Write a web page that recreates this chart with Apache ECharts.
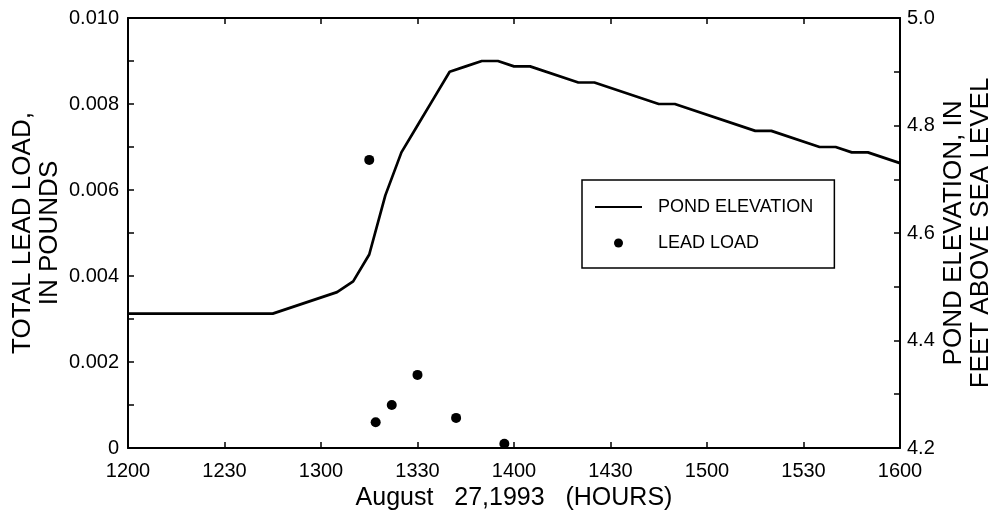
<!DOCTYPE html>
<html>
<head>
<meta charset="utf-8">
<title>Pond elevation and lead load, August 27, 1993</title>
<script src="https://cdn.jsdelivr.net/npm/echarts@6/dist/echarts.min.js"></script>
<style>
  html, body { margin: 0; padding: 0; background: #fff; }
  #chart { width: 1007px; height: 523px; }
</style>
</head>
<body>
<div id="chart"></div>
<script>
// Pond elevation, feet above sea level (clock time as HHMM)
const elevTimes = [1200, 1245, 1305, 1310, 1315, 1320, 1325, 1330, 1335, 1340, 1345, 1350, 1355,
                   1400, 1405, 1420, 1425, 1445, 1450, 1515, 1520, 1535, 1540, 1545, 1550, 1600];
const elevValues = [4.45, 4.45, 4.49, 4.51, 4.56, 4.67, 4.75, 4.80, 4.85, 4.90, 4.91, 4.92, 4.92,
                    4.91, 4.91, 4.88, 4.88, 4.84, 4.84, 4.79, 4.79, 4.76, 4.76, 4.75, 4.75, 4.73];

// Total lead load, pounds, per sample
const leadTimes = [1315, 1317, 1322, 1330, 1342, 1357];
const leadValues = [0.0067, 0.0006, 0.001, 0.0017, 0.0007, 0.0001];

// Axis tick labels
const hourTicks = ['1200', '1230', '1300', '1330', '1400', '1430', '1500', '1530', '1600'];

const FONT = '"Liberation Sans", Arial, Helvetica, sans-serif';
const BLACK = '#000';

// HHMM clock time -> minutes since midnight
const toMinutes = t => Math.floor(t / 100) * 60 + (t % 100);
const startMin = toMinutes(Number(hourTicks[0]));
const endMin = toMinutes(Number(hourTicks[hourTicks.length - 1]));

const elevData = elevTimes.map((t, i) => [toMinutes(t), elevValues[i]]);
const leadData = leadTimes.map((t, i) => [toMinutes(t), leadValues[i]]);

const axisLine = { show: true, onZero: false, lineStyle: { color: BLACK, width: 2 } };
const axisTick = { show: true, inside: true, length: 6, lineStyle: { color: BLACK, width: 1.5 } };
const minorTick = { show: true, splitNumber: 2, length: 6, lineStyle: { color: BLACK, width: 1.5 } };
const labelStyle = { color: BLACK, fontFamily: FONT, fontSize: 20 };
const nameStyle = { color: BLACK, fontFamily: FONT, fontSize: 26, lineHeight: 27, align: 'center' };

const chart = echarts.init(document.getElementById('chart'), null, { renderer: 'canvas' });

chart.setOption({
  backgroundColor: '#fff',
  animation: false,
  grid: { left: 128, right: 107, top: 18, bottom: 75, containLabel: false, outerBoundsMode: 'none' },
  legend: {
    orient: 'vertical',
    left: 582,
    top: 180,
    data: [
      // plain line sample, no marker on it
      { name: 'POND ELEVATION', itemStyle: { opacity: 0 } },
      { name: 'LEAD LOAD' }
    ],
    selectedMode: false,
    backgroundColor: '#fff',
    borderColor: BLACK,
    borderWidth: 1.5,
    borderRadius: 0,
    padding: [18, 21, 16, 12],
    itemGap: 18,
    itemWidth: 47,
    itemHeight: 9,
    textStyle: { color: BLACK, fontFamily: FONT, fontSize: 18, lineHeight: 18, padding: [0, 0, 0, 11] }
  },
  xAxis: [
    {
      type: 'value',
      position: 'bottom',
      min: startMin,
      max: endMin,
      interval: 30,
      axisLine: axisLine,
      axisTick: axisTick,
      splitLine: { show: false },
      axisLabel: {
        ...labelStyle,
        margin: 13,
        formatter: v => hourTicks[Math.round((v - startMin) / 30)]
      },
      name: 'August   27,1993   (HOURS)',
      nameLocation: 'middle',
      nameGap: 38,
      nameMoveOverlap: false,
      nameTextStyle: { color: BLACK, fontFamily: FONT, fontSize: 25 }
    },
    {
      type: 'value',
      position: 'top',
      min: startMin,
      max: endMin,
      interval: 30,
      axisLine: axisLine,
      axisTick: axisTick,
      axisLabel: { show: false },
      splitLine: { show: false }
    }
  ],
  yAxis: [
    {
      type: 'value',
      position: 'left',
      min: 0,
      max: 0.01,
      interval: 0.002,
      axisLine: axisLine,
      axisTick: axisTick,
      minorTick: minorTick,
      splitLine: { show: false },
      minorSplitLine: { show: false },
      axisLabel: {
        ...labelStyle,
        margin: 9,
        formatter: v => (v === 0 ? '0' : v.toFixed(3))
      },
      name: 'TOTAL LEAD LOAD,\nIN POUNDS',
      nameLocation: 'middle',
      nameRotate: 90,
      nameGap: 65,
      nameMoveOverlap: false,
      nameTextStyle: nameStyle
    },
    {
      type: 'value',
      position: 'right',
      min: 4.2,
      max: 5.0,
      interval: 0.2,
      axisLine: axisLine,
      axisTick: axisTick,
      minorTick: minorTick,
      splitLine: { show: false },
      minorSplitLine: { show: false },
      axisLabel: {
        ...labelStyle,
        margin: 7,
        formatter: v => v.toFixed(1)
      },
      name: 'POND ELEVATION, IN\nFEET ABOVE SEA LEVEL',
      nameLocation: 'middle',
      nameRotate: 90,
      nameGap: 40,
      nameMoveOverlap: false,
      nameTextStyle: nameStyle
    }
  ],
  series: [
    {
      name: 'POND ELEVATION',
      type: 'line',
      xAxisIndex: 0,
      yAxisIndex: 1,
      data: elevData,
      symbol: 'none',
      showSymbol: false,
      smooth: false,
      lineStyle: { color: BLACK, width: 2.7 },
      itemStyle: { color: BLACK },
      z: 3
    },
    {
      name: 'LEAD LOAD',
      type: 'scatter',
      xAxisIndex: 0,
      yAxisIndex: 0,
      data: leadData,
      symbol: 'circle',
      symbolSize: 10,
      itemStyle: { color: BLACK, opacity: 1 },
      z: 4
    }
  ]
});
</script>
</body>
</html>
